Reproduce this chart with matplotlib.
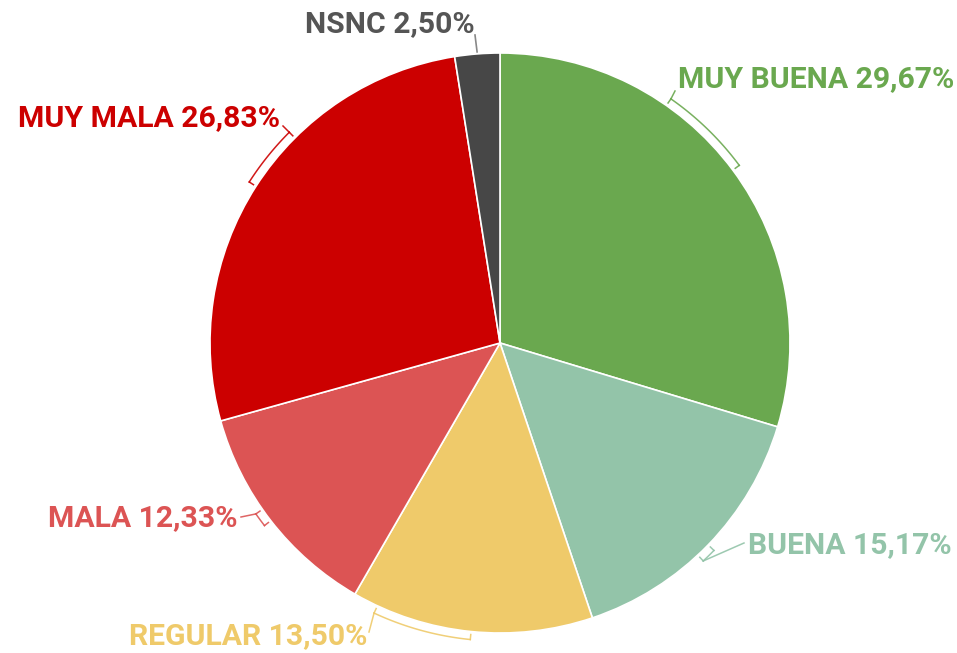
import numpy as np
import matplotlib
matplotlib.use("Agg")
import matplotlib.pyplot as plt

categories = ["MUY BUENA", "BUENA", "REGULAR", "MALA", "MUY MALA", "NSNC"]
values = [29.67, 15.17, 13.50, 12.33, 26.83, 2.50]
colors = ["#6aa84f", "#93c4a9", "#efca6a", "#dc5454", "#cc0000", "#474747"]
text_colors = ["#6aa84f", "#93c4a9", "#efca6a", "#dc5454", "#cc0000", "#555555"]

W, H = 957, 653
fig = plt.figure(figsize=(W / 100, H / 100), dpi=100)
ax = fig.add_axes([0, 0, 1, 1])
ax.set_xlim(0, W)
ax.set_ylim(0, H)
ax.set_aspect("equal")
ax.axis("off")

cx, cy_pix, R = 500, 343, 290
cy = H - cy_pix

ax.pie(values, colors=colors, startangle=90, counterclock=False,
       center=(cx, cy), radius=R, frame=True,
       wedgeprops=dict(edgecolor="white", linewidth=1.2))
ax.set_xlim(0, W)
ax.set_ylim(0, H)
ax.axis("off")

def pt(a_deg, r):
    a = np.radians(a_deg)
    return cx + r * np.sin(a), cy + r * np.cos(a)

layout = {
    "MUY BUENA": dict(x=678, y=87, ha="left", attach=35, end=(675, 91)),
    "BUENA": dict(x=748, y=553, ha="left", attach=137, end=(744, 543)),
    "REGULAR": dict(x=367, y=644, ha="right", attach=205, end=(369, 632)),
    "MALA": dict(x=238, y=526, ha="right", attach=235, end=(241, 517)),
    "MUY MALA": dict(x=280, y=126, ha="right", attach=315, end=(283, 126)),
    "NSNC": dict(x=305, y=32, ha="left", attach=None, end=(475, 35)),
}

cum = np.cumsum([0] + values)
total = sum(values)
for i, cat in enumerate(categories):
    a0 = cum[i] / total * 360
    a1 = cum[i + 1] / total * 360
    mid = (a0 + a1) / 2
    L = layout[cat]
    col = colors[i]
    ex, ey = L["end"][0], H - L["end"][1]
    if L["attach"] is None:
        p = pt(mid, R + 2)
        ax.plot([p[0], ex], [p[1], ey], color="#888888", lw=1.2)
    else:
        angs = np.linspace(mid, L["attach"], 40)
        rr = R + 8
        xs = cx + rr * np.sin(np.radians(angs))
        ys = cy + rr * np.cos(np.radians(angs))
        ax.plot(xs, ys, color=col, lw=1.1, alpha=0.9)
        for a in (mid, L["attach"]):
            p1 = pt(a, R + 3)
            p2 = pt(a, rr)
            ax.plot([p1[0], p2[0]], [p1[1], p2[1]], color=col, lw=1.1, alpha=0.9)
        ax.plot([xs[-1], ex], [ys[-1], ey], color=col, lw=1.1, alpha=0.9)
    label = f"{cat} {values[i]:.2f}".replace(".", ",") + "%"
    ax.text(L["x"], H - L["y"], label, ha=L["ha"], va="baseline",
            color=text_colors[i], fontsize=21.7, fontfamily="Roboto",
            fontweight="bold")

fig.savefig("out.png", dpi=100)
